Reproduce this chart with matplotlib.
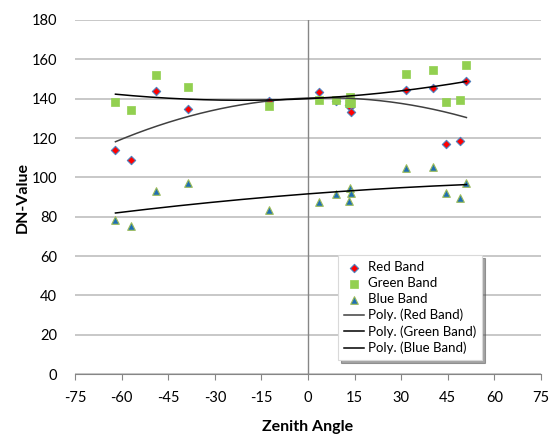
import numpy as np
import matplotlib
matplotlib.use("Agg")
import matplotlib.pyplot as plt

plt.rcParams['font.family'] = ['Lato', 'DejaVu Sans']
plt.rcParams['axes.unicode_minus'] = False

zenith = [-62, -57, -49, -38.5, -12.7, 3.5, 9, 13.1, 13.5, 13.8, 31.4, 40.3, 44.3, 48.9, 51]
red_band = [114, 108.6, 144, 135, 138.8, 143.2, 139, 137, 136, 133.4, 144.4, 145.6, 116.9, 118.3, 149]
green_band = [138.4, 134.2, 151.8, 145.8, 136.2, 139.3, 139.3, 138, 140.7, 137.6, 152.5, 154.7, 138.4, 139.3, 156.9]
blue_band = [78.3, 75.4, 93.2, 96.9, 83.2, 87.3, 91.4, 88.1, 94.4, 91.9, 104.6, 105.1, 91.9, 89.5, 96.9]

x_ticks = [-75, -60, -45, -30, -15, 0, 15, 30, 45, 60, 75]
y_ticks = [0, 20, 40, 60, 80, 100, 120, 140, 160, 180]

fig = plt.figure(figsize=(5.52, 4.34), dpi=100)
ax = fig.add_axes([0.136, 0.138, 0.844, 0.816])

x = np.array(zenith)
ax.scatter(x, red_band, marker='D', s=18, facecolor='#FF0000', edgecolor='#4F81BD', linewidths=0.8, zorder=3, label='Red Band')
ax.scatter(x, green_band, marker='s', s=30, facecolor='#92D050', edgecolor='#92D050', linewidths=0.5, zorder=3, label='Green Band')
ax.scatter(x, blue_band, marker='^', s=30, facecolor='#1F6FB4', edgecolor='#9BBB59', linewidths=0.8, zorder=3, label='Blue Band')

xs = np.linspace(x.min(), x.max(), 200)
for vals, name, col in [(red_band, 'Red Band', '#404040'), (green_band, 'Green Band', '#000000'), (blue_band, 'Blue Band', '#000000')]:
    c = np.polyfit(x, vals, 2)
    ax.plot(xs, np.polyval(c, xs), color=col, lw=1.1, zorder=4, label=f'Poly. ({name})')

ax.set_xlim(-75, 75)
ax.set_ylim(0, 180)
ax.set_xticks(x_ticks)
ax.set_yticks(y_ticks)
ax.grid(axis='y', color='#BFBFBF', lw=1.2)
ax.set_axisbelow(True)
ax.axvline(0, color='#868686', lw=1.0, zorder=1)
for s in ['left', 'top', 'right']:
    ax.spines[s].set_visible(False)
ax.spines['bottom'].set_color('#868686')
ax.tick_params(axis='x', direction='out', length=4, color='#868686', pad=8, labelsize=10.5)
ax.tick_params(axis='y', length=0, pad=13, labelsize=10.5)

ax.set_xlabel('Zenith Angle', fontsize=11.5, fontweight='bold', labelpad=11)
ax.set_ylabel('DN-Value', fontsize=11.5, fontweight='bold', labelpad=1)

leg = ax.legend(loc='lower left', bbox_to_anchor=(0.55, 0.02), fontsize=9.5, frameon=True,
                fancybox=False, shadow=True, edgecolor='#D9D9D9', handlelength=1.5,
                handletextpad=0.3, labelspacing=0.3, borderpad=0.45, scatterpoints=1)
leg.get_frame().set_linewidth(0.8)

fig.savefig('out.png', dpi=100)
